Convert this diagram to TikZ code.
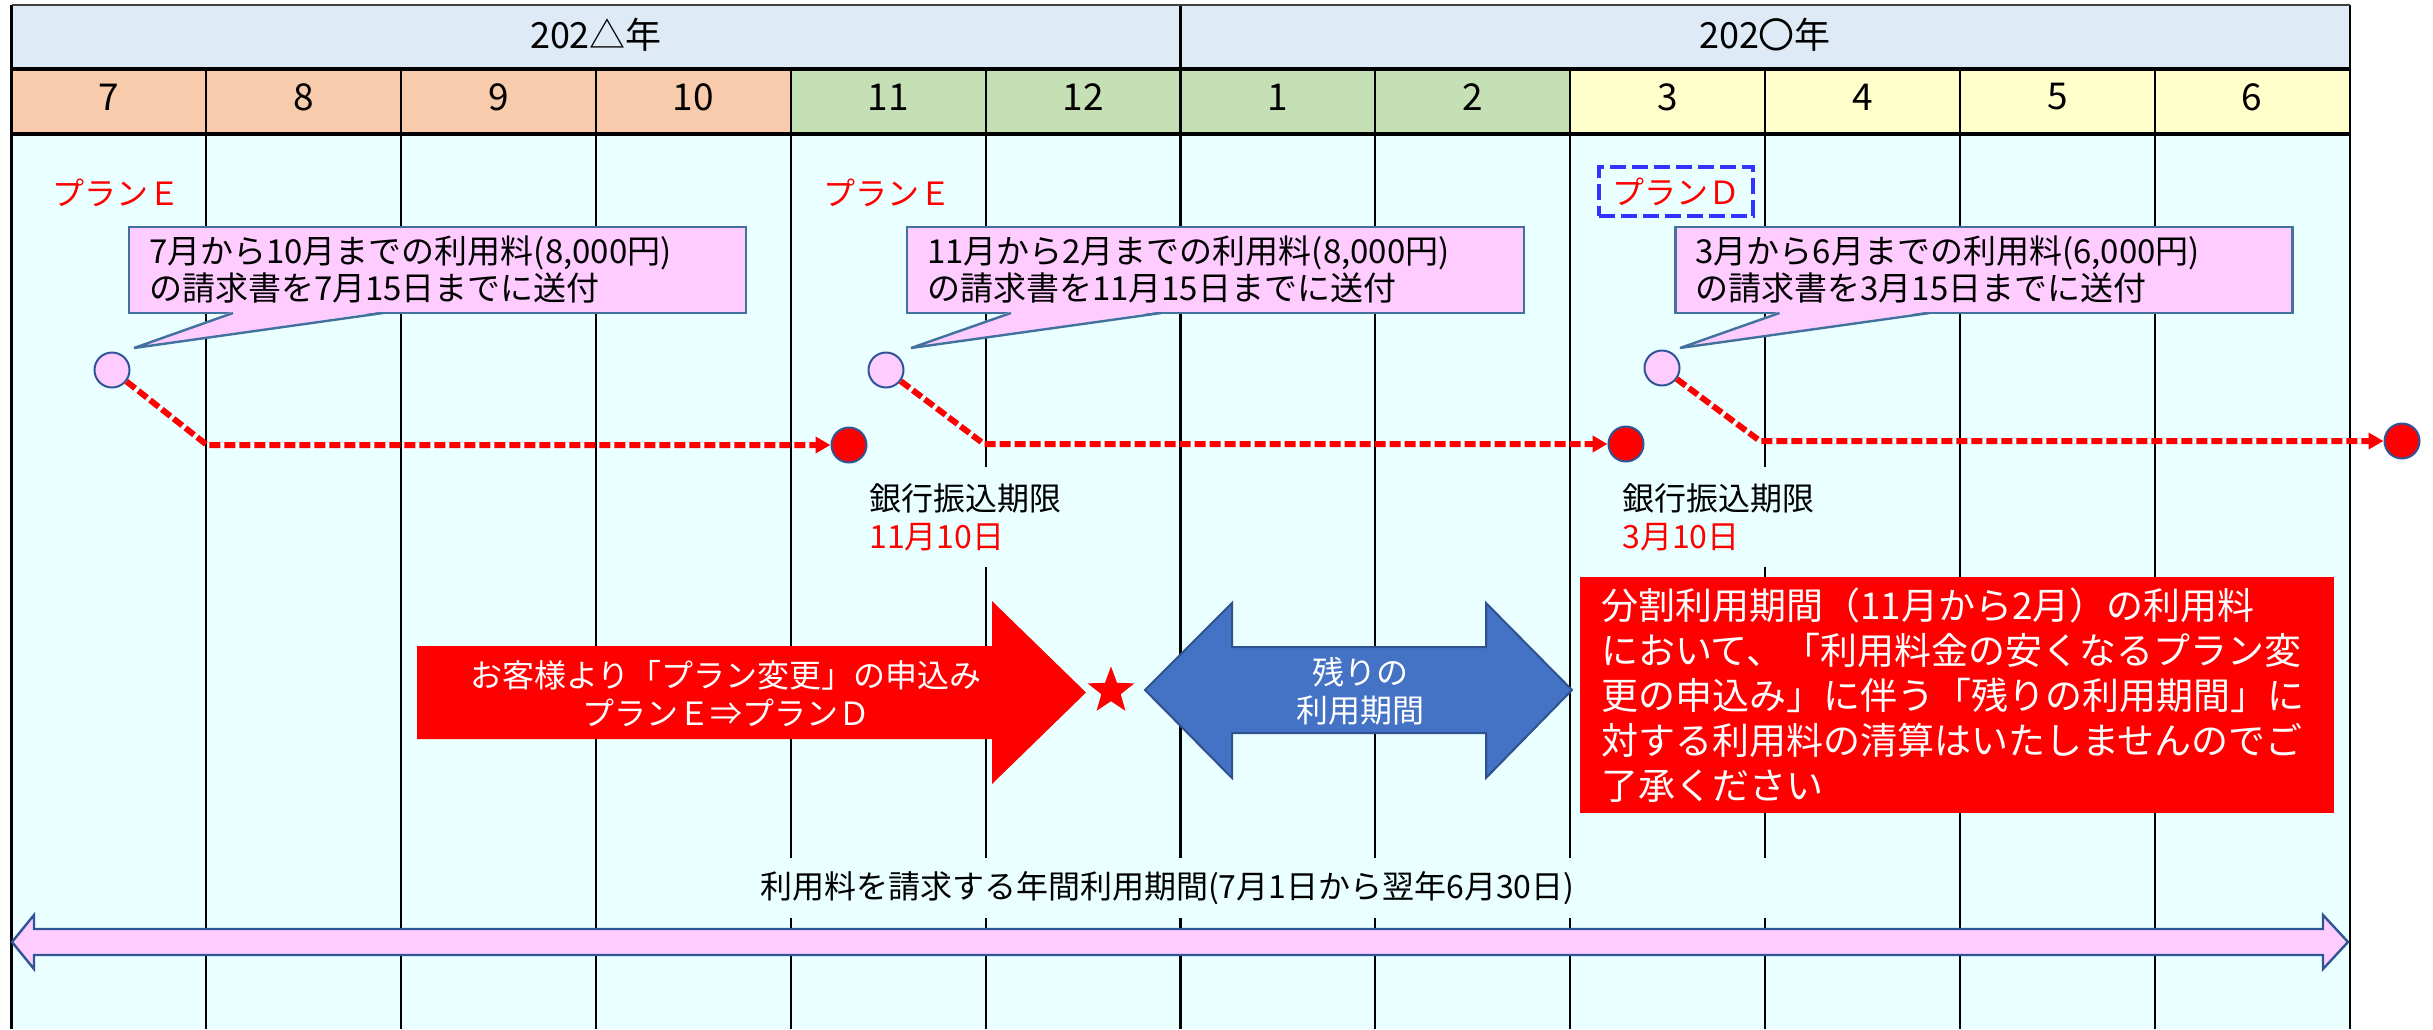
\documentclass[tikz,border=0pt]{standalone}
\usepackage{fontspec}
\setmainfont{Noto Sans CJK JP}
\usetikzlibrary{arrows.meta,shapes.geometric}
\definecolor{yearbg}{HTML}{DEEBF7}
\definecolor{mA}{HTML}{F8CBAD}
\definecolor{mB}{HTML}{C5E0B4}
\definecolor{mC}{HTML}{FFFFCC}
\definecolor{bodybg}{HTML}{EAFFFF}
\definecolor{pinkf}{HTML}{FFCCFF}
\definecolor{edgeblue}{HTML}{2F5597}
\definecolor{callblue}{HTML}{41719C}
\definecolor{arrowblue}{HTML}{4472C4}
\definecolor{arrowedge}{HTML}{2F528F}
\definecolor{dashblue}{HTML}{3333FF}
\begin{document}
\begin{tikzpicture}[x=0.5pt,y=-0.5pt,
  gridline/.style={line width=1.1pt,draw=black},
  ruleline/.style={line width=1.6pt,draw=black},
  topline/.style={line width=1.2pt,draw=black!75},
  yearlbl/.style={font=\fontsize{18}{20}\selectfont,inner sep=0pt},
  monthlbl/.style={font=\fontsize{18.5}{20}\selectfont,inner sep=0pt},
  planlbl/.style={text=red,font=\fontsize{16}{18}\selectfont,inner sep=0pt},
  plandbox/.style={planlbl,draw=dashblue,line width=2pt,dash pattern=on 8pt off 3pt,minimum width=77pt,minimum height=24.5pt},
  callbox/.style={draw=callblue,line width=1.2pt,fill=pinkf,outer sep=0pt,minimum height=43pt,text width=288.5pt,inner xsep=10pt,inner ysep=0pt,align=left,font=\fontsize{16.5}{18.5}\selectfont},
  calltail/.style={draw=callblue,line width=1.2pt,line join=miter},
  pdot/.style={circle,draw=edgeblue,line width=1pt,fill=pinkf,minimum size=17.5pt,inner sep=0pt},
  rdot/.style={pdot,fill=red},
  reddash/.style={draw=red,line width=3pt,line join=miter,dash pattern=on 5.5pt off 2pt,-{Triangle[length=7.5pt,width=8pt]}},
  bankbox/.style={fill=bodybg,anchor=west,align=left,inner xsep=4.5pt,inner ysep=0pt,minimum height=50pt,font=\fontsize{16}{19}\selectfont},
  arrowtxt/.style={text=white,align=center,inner sep=0pt,font=\fontsize{16}{19}\selectfont},
  noticebox/.style={fill=red,text=white,minimum height=118pt,text width=356pt,inner xsep=10.5pt,inner ysep=0pt,align=left,font=\fontsize{18.5}{22.5}\selectfont},
  periodlbl/.style={fill=bodybg,minimum height=30pt,text width=505pt,inner xsep=5pt,inner ysep=0pt,align=left,font=\fontsize{16}{19}\selectfont}
]
\useasboundingbox (0,0) rectangle (2433,1029);
\fill[white] (0,0) rectangle (2433,1029);
% backgrounds
\fill[yearbg] (11.5,5) rectangle (2349.6,69);
\foreach \i/\c in {0/mA,1/mA,2/mA,3/mA,4/mB,5/mB,6/mB,7/mB,8/mC,9/mC,10/mC,11/mC}
  \fill[\c] ({11.5+194.84*\i},69) rectangle ({11.5+194.84*(\i+1)},134);
\fill[bodybg] (11.5,134) rectangle (2349.6,1029);
% grid
\foreach \i in {0,...,12}
  \draw[gridline] ({11.5+194.84*\i},69) -- ({11.5+194.84*\i},1029);
\draw[gridline] (11.5,5) -- (11.5,69);
\draw[gridline] (1180.5,5) -- (1180.5,69);
\draw[gridline] (2349.6,5) -- (2349.6,69);
\draw[topline] (11.5,5) -- (2349.6,5);
\draw[ruleline] (11.5,69) -- (2349.6,69);
\draw[ruleline] (11.5,134) -- (2349.6,134);
% year and month labels
\node[yearlbl] (y1) at (596,35) {202△年};
\node[yearlbl] (y2) at (1765,35) {202〇年};
\foreach \i/\m in {0/7,1/8,2/9,3/10,4/11,5/12,6/1,7/2,8/3,9/4,10/5,11/6}
  \node[monthlbl] (m\i) at ({11.5+194.84*(\i+0.5)},97) {\m};
% plan labels
\node[planlbl] (pe1) at (117,193) {プランＥ};
\node[planlbl] (pe2) at (887,193) {プランＥ};
\node[plandbox] (pd) at (1676,191.5) {プランＤ};
% callouts
\node[callbox] (c1) at (437.5,270) {7月から10月までの利用料(8,000円)\\の請求書を7月15日までに送付};
\node[callbox] (c2) at (1215.5,270) {11月から2月までの利用料(8,000円)\\の請求書を11月15日までに送付};
\node[callbox] (c3) at (1984,270) {3月から6月までの利用料(6,000円)\\の請求書を3月15日までに送付};
\coordinate (t1) at (134,348);
\coordinate (t2) at (911,348);
\coordinate (t3) at (1680,348);
\foreach \c/\t in {c1/t1,c2/t2,c3/t3}{
  \fill[pinkf] ([xshift=52pt,yshift=0.8pt]\c.south west) -- (\t) -- ([xshift=127pt,yshift=0.8pt]\c.south west) -- cycle;
  \draw[calltail] ([xshift=52pt]\c.south west) -- (\t) -- ([xshift=127pt]\c.south west);
}
% dots and dashed connectors
\node[pdot] (p1) at (112,370) {};
\node[pdot] (p2) at (886,370) {};
\node[pdot] (p3) at (1662,368) {};
\node[rdot] (r1) at (849,445) {};
\node[rdot] (r2) at (1626,444) {};
\node[rdot] (r3) at (2402,441) {};
\coordinate (k1) at (207,445);
\coordinate (k2) at (984,444);
\coordinate (k3) at (1760,441);
\draw[reddash] (p1) -- (k1) -- (r1);
\draw[reddash] (p2) -- (k2) -- (r2);
\draw[reddash] (p3) -- (k3) -- (r3);
% bank deadline labels
\node[bankbox] (bk1) at (860,517) {銀行振込期限\\\textcolor{red}{11月10日}};
\node[bankbox] (bk2) at (1613,517) {銀行振込期限\\\textcolor{red}{3月10日}};
% red arrow
\fill[red] (417,646) -- (992,646) -- (992,601) -- (1086,692.5) -- (992,784) -- (992,739) -- (417,739) -- cycle;
\node[arrowtxt] (ra) at (726,694) {お客様より「プラン変更」の申込み\\プランＥ⇒プランＤ};
% star
\node[star,star points=5,star point ratio=2.4,fill=red,minimum size=24.5pt,inner sep=0pt] (st) at (1111,691) {};
% blue double arrow
\draw[fill=arrowblue,draw=arrowedge,line width=1pt,line join=miter] (1145,690) -- (1232,603) -- (1232,647) -- (1486,647) -- (1486,603) -- (1572,690) -- (1486,778) -- (1486,733) -- (1232,733) -- (1232,778) -- cycle;
\node[arrowtxt] (ba) at (1360,691) {残りの\\利用期間};
% notice
\node[noticebox] (nt) at (1957,695) {分割利用期間（11月から2月）の利用料\\において、「利用料金の安くなるプラン変\\更の申込み」に伴う「残りの利用期間」に\\対する利用料の清算はいたしませんのでご\\了承ください};
% annual period
\node[periodlbl] (pl) at (1265,888) {利用料を請求する年間利用期間(7月1日から翌年6月30日)};
\draw[fill=pinkf,draw=edgeblue,line width=1.2pt,line join=miter] (12,942) -- (34,915) -- (34,929) -- (2323,929) -- (2323,915) -- (2348,942) -- (2323,969) -- (2323,955) -- (34,955) -- (34,969) -- cycle;
\end{tikzpicture}
\end{document}
